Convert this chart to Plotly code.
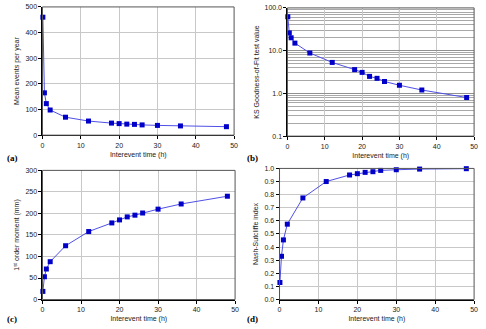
import plotly.graph_objects as go

interevent_h = [0.1, 0.5, 1, 2, 6, 12, 18, 20, 22, 24, 26, 30, 36, 48]
mean_events = [460, 165, 123, 98, 70, 55, 47, 45, 43, 42, 40, 38, 36, 33]
ks_value = [62, 26, 20, 15, 8.8, 5.3, 3.6, 3.1, 2.5, 2.25, 1.9, 1.55, 1.2, 0.8]
moment1 = [19, 53, 71, 88, 125, 158, 178, 185, 192, 196, 201, 210, 222, 240]
nash = [0.13, 0.33, 0.455, 0.575, 0.775, 0.9, 0.95, 0.96, 0.97, 0.975, 0.985, 0.99, 0.995, 0.998]
panel_labels = ["(a)", "(b)", "(c)", "(d)"]

W, H = 486, 329
def px(x0, x1):
    return [x0 / W, x1 / W]
def py(top, bottom):
    return [1 - bottom / H, 1 - top / H]

fig = go.Figure()
line_col = "#5050e8"
mk_col = "#0000c8"
font = "Liberation Sans, Arial, sans-serif"

series = [
    (mean_events, "x", "y"),
    (ks_value, "x2", "y2"),
    (moment1, "x3", "y3"),
    (nash, "x4", "y4"),
]
for vals, xa, ya in series:
    fig.add_trace(go.Scatter(
        x=interevent_h, y=vals, xaxis=xa, yaxis=ya, mode="lines+markers",
        line=dict(color=line_col, width=1),
        marker=dict(symbol="square", size=5, color=mk_col),
        cliponaxis=False, showlegend=False))

tickf = dict(family=font, size=7, color="#222")
titf = dict(family=font, size=7, color="#222")
grid = "#c8c8c8"

def xaxis(dom, anchor):
    return dict(domain=dom, anchor=anchor, range=[0, 50], dtick=10, tick0=0,
                showgrid=True, gridcolor=grid, gridwidth=1, zeroline=False,
                showline=True, linecolor="#000", linewidth=1, mirror=False,
                ticks="outside", ticklen=3, tickcolor="#000", tickfont=tickf,
                title=dict(text="Interevent time (h)", font=titf, standoff=4))

def yaxis(dom, anchor, rng, dtick, title, fmt=None, log=False):
    d = dict(domain=dom, anchor=anchor, range=rng, dtick=dtick,
             showgrid=True, gridcolor=grid, gridwidth=1, zeroline=False,
             showline=True, linecolor="#000", linewidth=1,
             ticks="outside", ticklen=3, tickcolor="#000", tickfont=tickf,
             title=dict(text=title, font=titf, standoff=4))
    if fmt:
        d["tickformat"] = fmt
    if log:
        d["type"] = "log"
        d["minor"] = dict(dtick="D1", showgrid=True, gridcolor="#a8a8a8", gridwidth=1, ticks="")
        d["gridcolor"] = "#909090"
    return d

fig.update_layout(
    width=W, height=H, margin=dict(l=0, r=0, t=0, b=0),
    paper_bgcolor="white", plot_bgcolor="white",
    xaxis=xaxis(px(41, 235), "y"),
    yaxis=yaxis(py(3, 134), "x", [0, 500], 100, "Mean events per year"),
    xaxis2=xaxis(px(289, 478), "y2"),
    yaxis2=yaxis(py(4, 135), "x2", [-1, 2], 1, "KS Goodness-of-Fit test value", ".1f", log=True),
    xaxis3=xaxis(px(41, 236), "y3"),
    yaxis3=yaxis(py(170, 302), "x3", [0, 300], 50, "1<sup>st</sup> order moment (mm)"),
    xaxis4=xaxis(px(281, 478), "y4"),
    yaxis4=yaxis(py(168, 302), "x4", [0, 1], 0.1, "Nash-Sutcliffe index", ".1f"),
)

# plot-area borders
for xa, ya in [("x", "y"), ("x2", "y2"), ("x3", "y3"), ("x4", "y4")]:
    fig.add_shape(type="rect", xref=f"{xa} domain", yref=f"{ya} domain",
                  x0=0, x1=1, y0=0, y1=1, line=dict(color="#555", width=1), layer="above")
# darker vertical gridline at 30 in panel (b)
fig.add_shape(type="line", xref="x2", yref="y2 domain", x0=30, x1=30, y0=0, y1=1,
              line=dict(color="#333", width=1), layer="below")

for lab, (xp, yp) in zip(panel_labels, [(3, 157), (246, 157), (3, 322), (246, 322)]):
    fig.add_annotation(text=f"<b>{lab}</b>", xref="paper", yref="paper",
                       x=xp / W, y=1 - yp / H, xanchor="left", yanchor="middle",
                       showarrow=False, font=dict(family="Liberation Serif, Times New Roman, serif", size=9, color="#000"))

fig.write_html("out.html")
